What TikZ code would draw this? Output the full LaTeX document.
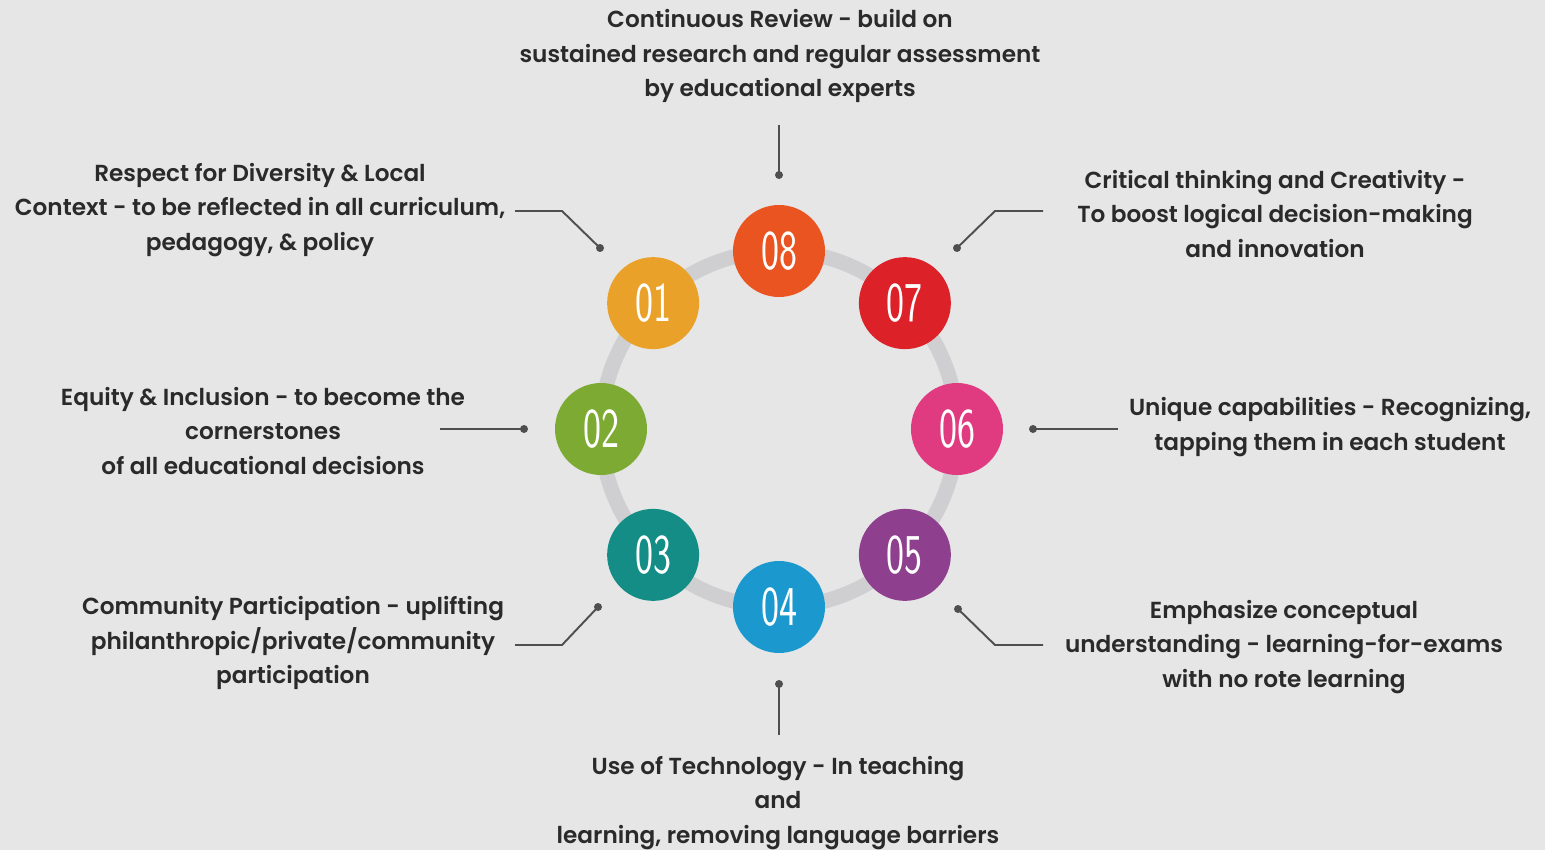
\documentclass[tikz,border=0pt]{standalone}
\usepackage{fontspec}
\setmainfont{Poppins}[UprightFont=* SemiBold]
\usetikzlibrary{calc}
\definecolor{bg}{HTML}{E6E6E6}
\definecolor{ringc}{HTML}{CFCFD1}
\definecolor{leadc}{HTML}{4F4F4F}
\definecolor{txtc}{HTML}{2A2A2A}
\definecolor{c1}{HTML}{E9A12A}
\definecolor{c2}{HTML}{7DAA33}
\definecolor{c3}{HTML}{138D86}
\definecolor{c4}{HTML}{1B99CF}
\definecolor{c5}{HTML}{8E3F8E}
\definecolor{c6}{HTML}{E03A80}
\definecolor{c7}{HTML}{DC2228}
\definecolor{c8}{HTML}{EA5420}
\newcommand{\numtxt}[1]{\scalebox{0.68}[1]{\fontsize{32}{32}\sffamily #1}}
\tikzset{
  num/.style={circle,minimum size=1.84cm,inner sep=0pt,fill=#1,text=white},
  lead/.style={draw=leadc,line width=1.1pt},
  dot/.style={circle,fill=leadc,inner sep=0pt,minimum size=0.16cm},
  txt/.style={align=center,text=txtc,font=\fontsize{13.2}{19.6}\selectfont}
}
\begin{document}
\begin{tikzpicture}[x=0.02cm,y=0.02cm]
\fill[bg] (0,0) rectangle (1545,850);
\useasboundingbox (0,0) rectangle (1545,850);
\coordinate (ctr) at (779,421);
\draw[ringc,line width=0.3cm] (ctr) circle (178); % ring
% numbered circles
\foreach \i/\a in {1/135,2/180,3/225,4/270,5/315,6/0,7/45,8/90}
  \node[num=c\i] (c\i) at ($(ctr)+(\a:178)$) {\numtxt{0\i}};
% texts
\node[txt] (t8) at (780,794) {Continuous Review - build on\\sustained research and regular assessment\\by educational experts};
\node[txt] (t1) at (260,640) {Respect for Diversity \& Local\\Context - to be reflected in all curriculum,\\pedagogy, \& policy};
\node[txt] (t7) at (1275,636) {Critical thinking and Creativity -\\To boost logical decision-making\\and innovation};
\node[txt] (t2) at (263,419) {Equity \& Inclusion - to become the\\cornerstones\\of all educational decisions};
\node[txt] (t6) at (1330,423) {Unique capabilities - Recognizing,\\tapping them in each student};
\node[txt] (t3) at (293,207) {Community Participation - uplifting\\philanthropic/private/community\\participation};
\node[txt] (t5) at (1284,203) {Emphasize conceptual\\understanding - learning-for-exams\\with no rote learning};
\node[txt] (t4) at (778,47) {Use of Technology - In teaching\\and\\learning, removing language barriers};
% lead lines
\coordinate (l8) at (779,725); \coordinate (d8) at (779,675);
\coordinate (l1) at (515,639); \coordinate (e1) at (562,639); \coordinate (d1) at (600,602);
\coordinate (l7) at (1043,639); \coordinate (e7) at (995,639); \coordinate (d7) at (957,602);
\coordinate (l2) at (440,421); \coordinate (d2) at (524,421);
\coordinate (l6) at (1118,421); \coordinate (d6) at (1033,421);
\coordinate (l3) at (515,205); \coordinate (e3) at (562,205); \coordinate (d3) at (598,243);
\coordinate (l5) at (1043,205); \coordinate (e5) at (995,205); \coordinate (d5) at (958,241);
\coordinate (l4) at (779,115); \coordinate (d4) at (779,166);
\draw[lead] (l8) -- (d8);
\draw[lead] (l1) -- (e1) -- (d1);
\draw[lead] (l7) -- (e7) -- (d7);
\draw[lead] (l2) -- (d2);
\draw[lead] (l6) -- (d6);
\draw[lead] (l3) -- (e3) -- (d3);
\draw[lead] (l5) -- (e5) -- (d5);
\draw[lead] (l4) -- (d4);
\foreach \i in {1,...,8}
  \node[dot] at (d\i) {};
\end{tikzpicture}
\end{document}
